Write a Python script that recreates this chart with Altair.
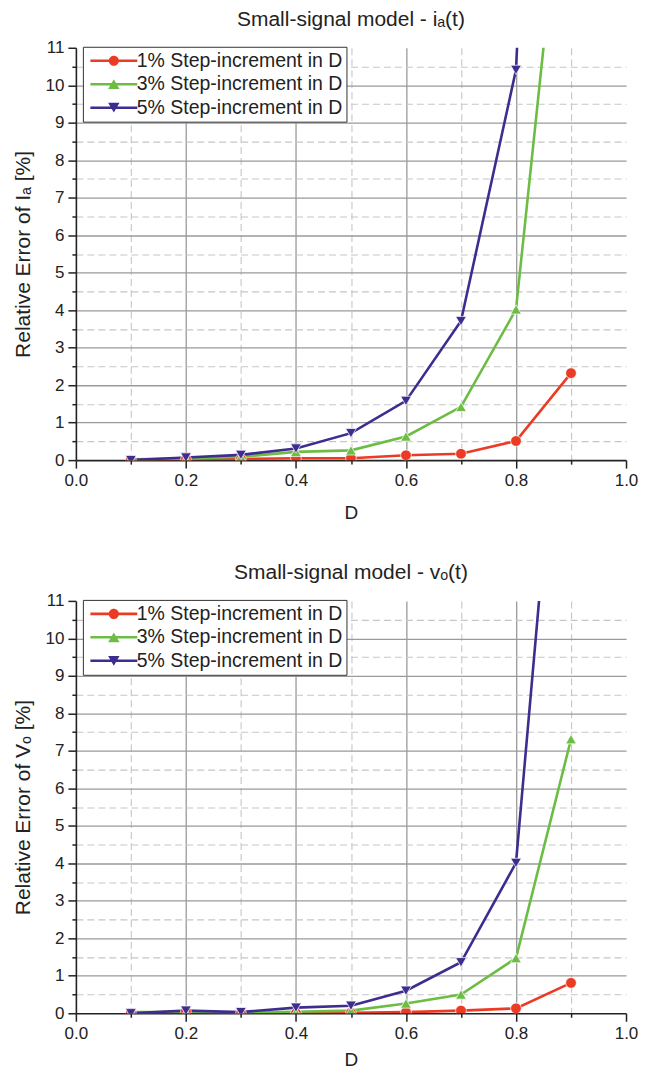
import altair as alt
import pandas as pd

FONT = "Liberation Sans"
TXT = "#222222"

D = [0.1, 0.2, 0.3, 0.4, 0.5, 0.6, 0.7, 0.8, 0.9]
SERIES = ["1% Step-increment in D", "3% Step-increment in D", "5% Step-increment in D"]
COLORS = ["#EB3B25", "#6DBD45", "#3F2C8F"]

# Top panel: relative error of I_a [%]
ia_1 = [0.0, 0.02, 0.03, 0.05, 0.05, 0.13, 0.17, 0.51, 2.32]
ia_3 = [0.02, 0.04, 0.09, 0.22, 0.26, 0.63, 1.42, 4.02, 18.0]
ia_5 = [0.0, 0.07, 0.14, 0.31, 0.72, 1.58, 3.71, 10.41, 42.0]

# Bottom panel: relative error of V_o [%]
vo_1 = [0.0, 0.05, 0.0, 0.0, 0.01, 0.03, 0.07, 0.13, 0.81]
vo_3 = [0.03, 0.03, 0.02, 0.04, 0.07, 0.26, 0.5, 1.47, 7.31]
vo_5 = [0.0, 0.07, 0.03, 0.15, 0.2, 0.6, 1.36, 4.01, 20.7]

X_TICKS = [0.0, 0.1, 0.2, 0.3, 0.4, 0.5, 0.6, 0.7, 0.8, 0.9, 1.0]
Y_TICKS = [0, 0.5, 1, 1.5, 2, 2.5, 3, 3.5, 4, 4.5, 5, 5.5, 6, 6.5, 7, 7.5, 8,
           8.5, 9, 9.5, 10, 10.5, 11]

POINT_SHAPES = ["circle", "triangle-up", "triangle-down"]
BAR = "M-2.41,-0.13H2.41V0.13H-2.41Z "
LEGEND_SHAPES = [
    BAR + "M-0.52,0A0.52,0.52 0 1,1 0.52,0A0.52,0.52 0 1,1 -0.52,0Z",
    BAR + "M0,-0.5L0.585,0.5L-0.585,0.5Z",
    BAR + "M0,0.5L-0.585,-0.5L0.585,-0.5Z",
]


def long_df(vals):
    rows = []
    for s, v in zip(SERIES, vals):
        for d, e in zip(D, v):
            rows.append({"D": d, "err": e, "series": s})
    return pd.DataFrame(rows)


X_MAJOR = "abs(datum.value*5 - round(datum.value*5)) < 0.001"
X_EDGE = "datum.value < 0.001 || datum.value > 0.999"
Y_MAJOR = "datum.value % 1 == 0"
Y_EDGE = "datum.value < 0.01 || datum.value > 10.99"


def x_axis(title_pad):
    return alt.Axis(
        values=X_TICKS, title="D",
        labelExpr=f"({X_MAJOR}) ? format(datum.value, '.1f') : ''",
        labelFlush=False, labelOverlap=False,
        labelFont=FONT, labelFontSize=17, labelColor=TXT, labelPadding=4,
        titleFont=FONT, titleFontSize=19, titleFontWeight="normal",
        titleColor=TXT, titlePadding=title_pad,
        domainColor=TXT, domainWidth=1.6, tickColor=TXT, tickWidth=1.5,
        tickSize={"condition": {"test": X_MAJOR, "value": 8}, "value": 4},
        grid=True,
        gridColor={"condition": {"test": X_MAJOR, "value": "#9a9a9a"}, "value": "#c6c6c6"},
        gridDash={"condition": {"test": X_MAJOR, "value": []}, "value": [7, 4]},
        gridWidth={"condition": {"test": X_MAJOR, "value": 1.3}, "value": 1.1},
        gridOpacity={"condition": {"test": X_EDGE, "value": 0}, "value": 1},
    )


def y_axis(title):
    return alt.Axis(
        values=Y_TICKS, title=title,
        labelExpr=f"({Y_MAJOR}) ? format(datum.value, 'd') : ''",
        labelFlush=False, labelOverlap=False,
        labelFont=FONT, labelFontSize=17, labelColor=TXT, labelPadding=4,
        titleFont=FONT, titleFontSize=21, titleFontWeight="normal",
        titleColor=TXT, titlePadding=12,
        domainColor=TXT, domainWidth=1.6, tickColor=TXT, tickWidth=1.5,
        tickSize={"condition": {"test": Y_MAJOR, "value": 8}, "value": 4},
        grid=True,
        gridColor={"condition": {"test": Y_MAJOR, "value": "#9a9a9a"}, "value": "#c6c6c6"},
        gridDash={"condition": {"test": Y_MAJOR, "value": []}, "value": [7, 4]},
        gridWidth={"condition": {"test": Y_MAJOR, "value": 1.3}, "value": 1.1},
        gridOpacity={"condition": {"test": Y_EDGE, "value": 0}, "value": 1},
    )


def panel(vals, title, ytitle, x_title_pad):
    df = long_df(vals)
    x = alt.X("D:Q", scale=alt.Scale(domain=[0, 1], nice=False, zero=False),
              axis=x_axis(x_title_pad))
    y = alt.Y("err:Q", scale=alt.Scale(domain=[0, 11], nice=False), axis=y_axis(ytitle))
    cscale = alt.Scale(domain=SERIES, range=COLORS)

    lines = alt.Chart(df).mark_line(clip=True, strokeWidth=2.6).encode(
        x=x, y=y,
        color=alt.Color("series:N", scale=cscale, legend=None),
        order=alt.Order("D:Q"),
    )
    points = alt.Chart(df).mark_point(
        filled=True, clip=True, size=115, opacity=1, stroke="white", strokeWidth=0.7
    ).encode(
        x=x, y=y,
        color=alt.Color("series:N", scale=cscale, legend=None),
        shape=alt.Shape("series:N", scale=alt.Scale(domain=SERIES, range=POINT_SHAPES), legend=None),
    )
    leg = alt.Legend(
        title=None, orient="none", legendX=7, legendY=-1, padding=4,
        strokeColor="#333333", fillColor="white",
        labelFont=FONT, labelFontSize=19.5, labelColor=TXT, labelLimit=0,
        labelOffset=13, rowPadding=3.5, symbolSize=380, symbolStrokeWidth=0,
        symbolOffset=17, symbolOpacity=1,
    )
    legend_layer = alt.Chart(df).mark_point(
        filled=True, clip=True, size=380, opacity=1
    ).encode(
        x=alt.value(-1000), y=alt.value(-1000),
        color=alt.Color("series:N", scale=cscale, legend=leg),
        shape=alt.Shape("series:N", scale=alt.Scale(domain=SERIES, range=LEGEND_SHAPES), legend=leg),
    )
    return alt.layer(lines, points, legend_layer).resolve_scale(
        color="independent", shape="independent"
    ).properties(
        width=551, height=413,
        title=alt.Title(title, font=FONT, fontSize=21, fontWeight="normal",
                        color=TXT, anchor="middle", offset=9),
    )


top = panel([ia_1, ia_3, ia_5], "Small-signal model - iₐ(t)", "Relative Error of Iₐ [%]", 15)
bottom = panel([vo_1, vo_3, vo_5], "Small-signal model - vₒ(t)", "Relative Error of Vₒ [%]", 9)

chart = alt.vconcat(top, bottom, spacing=40).properties(
    padding={"left": 4, "top": 0, "right": 0, "bottom": 0},
    background="white",
).configure_view(stroke=None)

chart.save("out.html", embed_options={"renderer": "svg", "actions": False})
